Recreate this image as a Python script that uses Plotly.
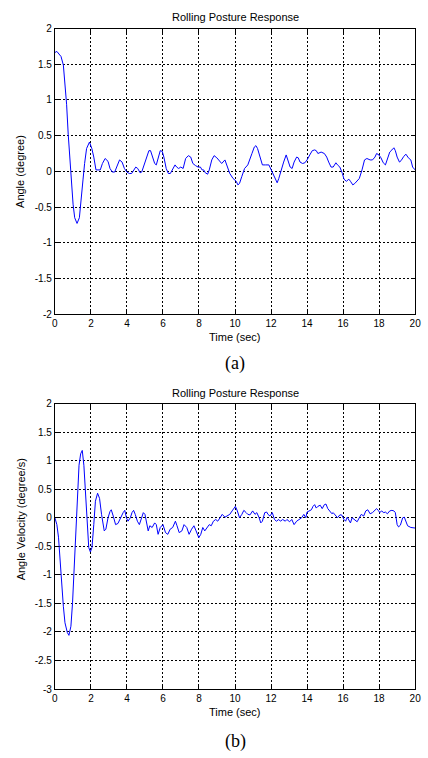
import plotly.graph_objects as go

# ---- data (a): rolling angle ----
t_a = [0.0, 0.02, 0.11, 0.20, 0.34, 0.47, 0.56, 0.65, 0.74, 0.83, 0.92, 1.01, 1.10, 1.23, 1.36, 1.47, 1.56,
       1.65, 1.76, 1.92, 2.05, 2.16, 2.28, 2.52, 2.64, 2.79, 2.95, 3.06, 3.19, 3.32, 3.46, 3.59, 3.73,
       3.86, 4.00, 4.13, 4.26, 4.37, 4.49, 4.60, 4.73, 4.82, 4.95, 5.09, 5.22, 5.31, 5.42, 5.54, 5.63,
       5.73, 5.85, 5.96, 6.05, 6.18, 6.30, 6.41, 6.54, 6.67, 6.76, 6.87, 6.99, 7.12, 7.26, 7.41, 7.54,
       7.66, 7.81, 7.95, 8.08, 8.17, 8.26, 8.35, 8.48, 8.57, 8.71, 8.84, 8.99, 9.08, 9.26, 9.44, 9.57,
       9.71, 9.89, 10.07, 10.16, 10.25, 10.38, 10.53, 10.71, 10.83, 10.94, 11.07, 11.16, 11.25, 11.40,
       11.52, 11.70, 11.88, 12.01, 12.16, 12.25, 12.34, 12.43, 12.55, 12.70, 12.84, 12.94, 13.06, 13.17,
       13.28, 13.42, 13.51, 13.61, 13.75, 13.88, 14.00, 14.15, 14.29, 14.42, 14.51, 14.60, 14.78, 14.96,
       15.09, 15.20, 15.33, 15.45, 15.60, 15.69, 15.82, 15.96, 16.05, 16.18, 16.32, 16.41, 16.54, 16.65,
       16.78, 16.90, 17.05, 17.19, 17.32, 17.50, 17.63, 17.77, 17.86, 17.99, 18.10, 18.23, 18.35, 18.46,
       18.59, 18.71, 18.82, 18.90, 19.00, 19.13, 19.22, 19.37, 19.49, 19.62, 19.76, 19.86, 20.0]
angle = [1.66, 1.67, 1.68, 1.65, 1.61, 1.49, 1.26, 0.94, 0.52, 0.16, -0.17, -0.46, -0.65, -0.73, -0.65, -0.40, -0.12,
         0.11, 0.32, 0.41, 0.32, 0.20, 0.02, 0.02, 0.11, 0.18, 0.14, 0.04, -0.01, -0.01, 0.09, 0.16, 0.13,
         0.04, -0.01, -0.03, -0.03, 0.02, 0.06, 0.04, -0.02, -0.01, 0.09, 0.20, 0.29, 0.29, 0.20, 0.11, 0.09,
         0.20, 0.29, 0.28, 0.20, 0.04, -0.03, -0.03, 0.04, 0.09, 0.06, 0.04, 0.06, 0.04, 0.18, 0.22, 0.20,
         0.11, 0.08, 0.06, 0.06, 0.02, 0.02, -0.02, -0.04, 0.02, 0.16, 0.22, 0.19, 0.16, 0.11, 0.16, 0.06,
         -0.03, -0.10, -0.14, -0.19, -0.17, -0.07, 0.04, 0.09, 0.16, 0.25, 0.34, 0.36, 0.32, 0.20,
         0.09, 0.09, 0.09, 0.02, -0.07, -0.12, -0.16, -0.10, 0.02, 0.13, 0.23, 0.16, 0.06, 0.04,
         0.13, 0.20, 0.19, 0.13, 0.11, 0.12, 0.16, 0.23, 0.29, 0.30, 0.29, 0.25, 0.27, 0.25,
         0.20, 0.13, 0.06, 0.06, 0.12, 0.09, 0.06, -0.03, -0.11, -0.14, -0.11, -0.14, -0.19, -0.17,
         -0.14, -0.10, 0.02, 0.16, 0.18, 0.16, 0.16, 0.20, 0.25, 0.23, 0.19, 0.12, 0.09, 0.16,
         0.27, 0.30, 0.33, 0.29, 0.20, 0.13, 0.15, 0.21, 0.24, 0.19, 0.16, 0.06, 0.02]

# ---- data (b): rolling angle velocity ----
t_b = [0.0, 0.11, 0.20, 0.29, 0.38, 0.47, 0.56, 0.69, 0.78, 0.89, 0.98, 1.07, 1.16, 1.25, 1.34, 1.43, 1.52,
       1.61, 1.70, 1.79, 1.88, 1.97, 2.06, 2.16, 2.25, 2.37, 2.48, 2.59, 2.74, 2.83, 2.95, 3.06, 3.13,
       3.24, 3.37, 3.50, 3.64, 3.79, 3.88, 3.97, 4.06, 4.19, 4.28, 4.37, 4.46, 4.58, 4.69, 4.82, 4.91,
       5.00, 5.09, 5.18, 5.27, 5.40, 5.54, 5.63, 5.73, 5.85, 6.00, 6.14, 6.27, 6.40, 6.54, 6.69, 6.78,
       6.90, 7.05, 7.17, 7.32, 7.45, 7.59, 7.72, 7.84, 7.99, 8.10, 8.21, 8.32, 8.44, 8.57, 8.68, 8.80,
       8.93, 9.04, 9.17, 9.29, 9.44, 9.58, 9.71, 9.84, 9.95, 10.02, 10.13, 10.25, 10.38, 10.49, 10.62,
       10.71, 10.83, 10.98, 11.11, 11.21, 11.34, 11.43, 11.52, 11.65, 11.76, 11.83, 11.94, 12.07, 12.19,
       12.30, 12.43, 12.52, 12.65, 12.79, 12.88, 13.03, 13.15, 13.28, 13.42, 13.57, 13.70, 13.82, 13.93,
       14.00, 14.11, 14.24, 14.33, 14.42, 14.51, 14.60, 14.73, 14.84, 14.96, 15.05, 15.15, 15.27, 15.38,
       15.45, 15.56, 15.69, 15.82, 15.92, 16.05, 16.14, 16.23, 16.32, 16.41, 16.50, 16.65, 16.78, 16.90,
       17.01, 17.14, 17.26, 17.37, 17.50, 17.63, 17.74, 17.86, 17.95, 18.04, 18.13, 18.26, 18.35, 18.46,
       18.59, 18.71, 18.82, 18.90, 19.00, 19.08, 19.18, 19.31, 19.40, 19.49, 19.58, 19.76, 20.0]
velocity = [0.0, -0.12, -0.34, -0.80, -1.26, -1.55, -1.84, -2.01, -2.06, -1.90, -1.49, -0.92, -0.23, 0.40, 0.92, 1.12, 1.18,
            0.92, 0.40, -0.12, -0.52, -0.60, -0.52, -0.12, 0.29, 0.43, 0.34, 0.06, -0.23, -0.20, 0.0, 0.11, 0.14,
            0.03, -0.12, -0.10, 0.0, 0.09, 0.13, 0.0, -0.06, 0.0, 0.09, 0.13, 0.06, -0.06, -0.12, 0.0, 0.09,
            0.06, -0.06, -0.23, -0.14, -0.17, -0.09, -0.12, -0.29, -0.17, -0.12, -0.26, -0.29, -0.20, -0.17, -0.06, -0.14,
            -0.26, -0.23, -0.12, -0.17, -0.29, -0.20, -0.14, -0.23, -0.35, -0.29, -0.17, -0.23, -0.17, -0.12, -0.14, -0.06,
            -0.03, -0.06, 0.0, 0.06, 0.01, 0.03, 0.06, 0.12, 0.17, 0.20, 0.12, 0.0, 0.06, 0.13, 0.09,
            0.06, 0.05, 0.12, 0.06, 0.09, 0.0, -0.09, -0.06, 0.09, 0.10, 0.06, 0.03, 0.09, -0.03,
            -0.06, -0.03, -0.06, -0.03, -0.06, -0.03, -0.07, -0.03, -0.12, -0.06, -0.03, 0.0, 0.06, 0.0,
            0.10, 0.12, 0.14, 0.20, 0.23, 0.17, 0.20, 0.22, 0.16, 0.23, 0.24, 0.16, 0.12, 0.07,
            0.09, 0.05, 0.0, 0.05, 0.05, -0.03, -0.06, 0.01, -0.05, -0.09, 0.0, -0.03, -0.07, 0.0,
            0.06, 0.03, 0.12, 0.14, 0.07, 0.09, 0.12, 0.16, 0.13, 0.09, 0.12, 0.09, 0.10, 0.07,
            0.12, 0.13, 0.12, 0.09, -0.12, -0.16, -0.13, 0.0, 0.01, -0.06, -0.14, -0.17, -0.18]

x_ticks = list(range(0, 21, 2))
ya_ticks = [-2, -1.5, -1, -0.5, 0, 0.5, 1, 1.5, 2]
yb_ticks = [-3, -2.5, -2, -1.5, -1, -0.5, 0, 0.5, 1, 1.5, 2]


def lab(v):
    return "%g" % v


W, H = 428, 758


def py(pix):
    return 1 - pix / H


fig = go.Figure()
fig.add_trace(go.Scatter(x=t_a, y=angle, mode="lines", line=dict(color="#0000ff", width=1),
                         xaxis="x", yaxis="y", showlegend=False))
fig.add_trace(go.Scatter(x=t_b, y=velocity, mode="lines", line=dict(color="#0000ff", width=1),
                         xaxis="x2", yaxis="y2", showlegend=False))

tickfont = dict(family="Liberation Sans, Arial", size=10, color="black")
common = dict(showgrid=True, gridcolor="black", gridwidth=1, griddash="2px,2px",
              showline=True, linecolor="black", linewidth=1, mirror="ticks",
              ticks="inside", ticklen=4, tickcolor="black", zeroline=False,
              tickfont=tickfont)

xdom = [53 / W, 421 / W]
fig.update_layout(
    width=W, height=H, margin=dict(l=0, r=0, t=0, b=0),
    paper_bgcolor="white", plot_bgcolor="white",
    xaxis=dict(domain=xdom, range=[0, 20], tickvals=x_ticks, ticktext=[lab(v) for v in x_ticks],
               anchor="y", **common),
    yaxis=dict(domain=[py(313), py(23)], range=[-2, 2], tickvals=ya_ticks,
               ticktext=[lab(v) for v in ya_ticks], anchor="x", **common),
    xaxis2=dict(domain=xdom, range=[0, 20], tickvals=x_ticks, ticktext=[lab(v) for v in x_ticks],
                anchor="y2", **common),
    yaxis2=dict(domain=[py(694), py(404)], range=[-3, 2], tickvals=yb_ticks,
                ticktext=[lab(v) for v in yb_ticks], anchor="x2", **common),
)

sans = dict(family="Liberation Sans, Arial", size=11, color="black")
serif = dict(family="Liberation Serif, Times New Roman", size=18, color="black")
cx = (53 + 421) / 2 / W
ann = [
    dict(text="Rolling Posture Response", x=cx, y=py(11), font=sans),
    dict(text="Time (sec)", x=cx, y=py(336), font=sans),
    dict(text="(a)", x=cx, y=py(363), font=serif),
    dict(text="Angle (degree)", x=18 / W, y=py(168), font=sans, textangle=-90),
    dict(text="Rolling Posture Response", x=cx, y=py(393), font=sans),
    dict(text="Time (sec)", x=cx, y=py(717), font=sans),
    dict(text="(b)", x=cx, y=py(747), font=serif),
    dict(text="Angle Velocity (degree/s)", x=18 / W, y=py(522), font=sans, textangle=-90),
]
for a in ann:
    a.update(xref="paper", yref="paper", showarrow=False, xanchor="center", yanchor="middle")
fig.update_layout(annotations=ann)

fig.write_html("out.html")
